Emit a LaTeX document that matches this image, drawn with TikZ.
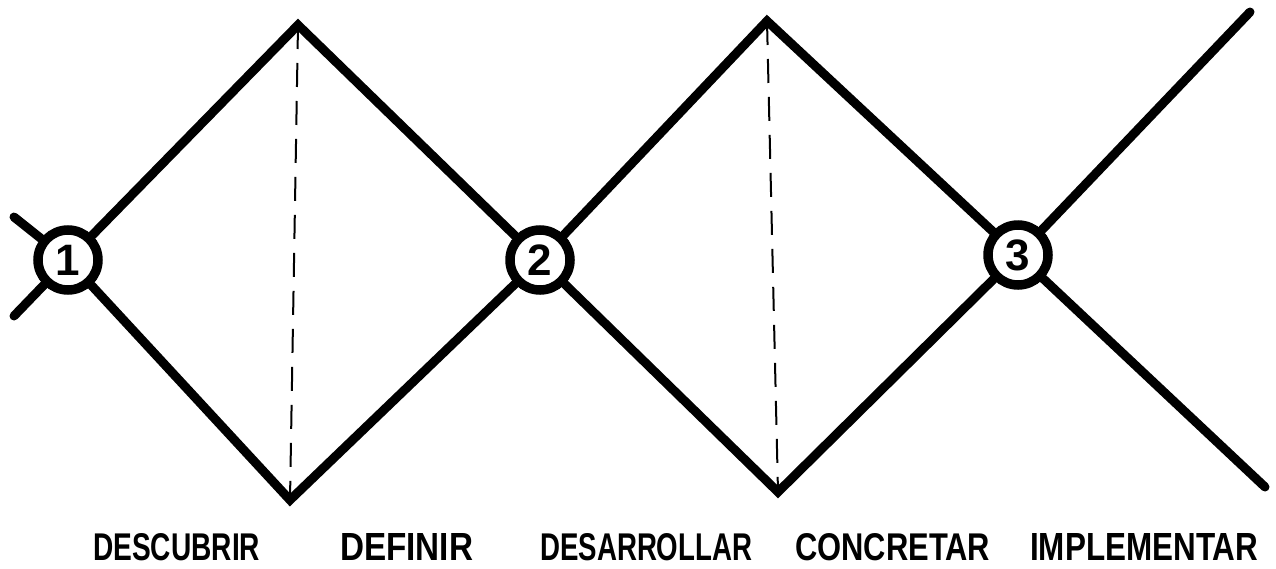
\documentclass[tikz,border=0pt]{standalone}
\usepackage{fontspec}
\setmainfont{Liberation Sans}
\begin{document}
\begin{tikzpicture}[x=1pt,y=-1pt,
  stage/.style={circle,draw,line width=9.5pt,minimum size=60pt,inner sep=0pt,fill=white,font=\fontsize{44}{44}\selectfont\bfseries},
  edge/.style={line width=9pt,line join=miter,line cap=round},
  divider/.style={line width=2pt,dash pattern=on 24pt off 14pt},
  phase/.style={anchor=base west,inner sep=0pt,font=\bfseries}]
\useasboundingbox[fill=white] (0,0) rectangle (1276,568);
% vertices
\coordinate (t1) at (298,25);
\coordinate (b1) at (290,500);
\coordinate (t2) at (767,21);
\coordinate (b2) at (778,492);
\coordinate (l1) at (14,217);
\coordinate (l2) at (14,316);
\coordinate (r1) at (1250,12);
\coordinate (r2) at (1265,487);
% circles
\node[stage] (c1) at (68,260) {1};
\node[stage] (c2) at (540,260) {2};
\node[stage] (c3) at (1018,255) {3};
% dashed dividers
\draw[divider] (t1) -- (b1);
\draw[divider] (t2) -- (b2);
% diamonds
\draw[edge] (c1) -- (t1) -- (c2);
\draw[edge] (c1) -- (b1) -- (c2);
\draw[edge] (c2) -- (t2) -- (c3);
\draw[edge] (c2) -- (b2) -- (c3);
\draw[edge] (c1) -- (l1);
\draw[edge] (c1) -- (l2);
\draw[edge] (c3) -- (r1);
\draw[edge] (c3) -- (r2);
% labels
\node[phase] (p1) at (93,560) {\resizebox{167pt}{27pt}{DESCUBRIR}};
\node[phase] (p2) at (340,560) {\resizebox{133pt}{27pt}{DEFINIR}};
\node[phase] (p3) at (540,560) {\resizebox{212pt}{27pt}{DESARROLLAR}};
\node[phase] (p4) at (795,560) {\resizebox{195pt}{27pt}{CONCRETAR}};
\node[phase] (p5) at (1030,560) {\resizebox{228pt}{27pt}{IMPLEMENTAR}};
\end{tikzpicture}
\end{document}
